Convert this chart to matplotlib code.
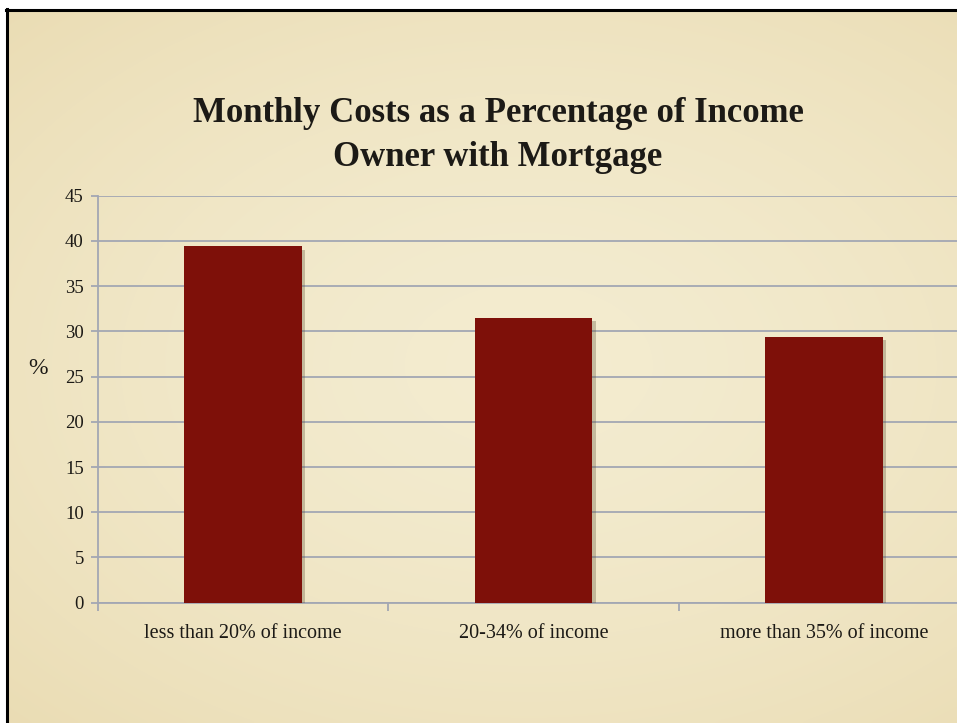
import numpy as np
import matplotlib
matplotlib.use("Agg")
import matplotlib.pyplot as plt
import matplotlib.patheffects as pe
from matplotlib.lines import Line2D

categories = ["less than 20% of income", "20-34% of income", "more than 35% of income"]
values = [39.4, 31.5, 29.4]
yticks = [0, 5, 10, 15, 20, 25, 30, 35, 40, 45]

W, H = 957, 723
fig = plt.figure(figsize=(W / 100, H / 100), dpi=100)
fig.patch.set_facecolor("white")

# parchment background
bg = fig.add_axes([6 / W, 0, 1 - 6 / W, 1 - 9 / H])
bg.set_axis_off()
yy, xx = np.mgrid[0:1:200j, 0:1:260j]
r = np.sqrt(((xx - 0.55) / 0.9) ** 2 + ((yy - 0.5) / 0.8) ** 2)
light = np.array([0.955, 0.925, 0.815])
dark = np.array([0.910, 0.850, 0.680])
t = np.clip(r, 0, 1)[..., None] ** 1.6
img = light * (1 - t) + dark * t
bg.imshow(img, aspect="auto", extent=[0, 1, 0, 1], interpolation="bicubic")
bg.set_xlim(0, 1)
bg.set_ylim(0, 1)

# black border lines (top and left)
fig.add_artist(Line2D([6 / W, 1], [1 - 10 / H, 1 - 10 / H], color="black", lw=2.2,
                      transform=fig.transFigure))
fig.add_artist(Line2D([7 / W, 7 / W], [0, 1 - 9 / H], color="black", lw=2.2,
                      transform=fig.transFigure))

serif = ["Liberation Serif", "DejaVu Serif"]
txt = "#1c1a16"
gridc = "#a3a7b3"

left = 97.7 / W
width = 871.5 / W
bottom = (H - 602.7) / H
height = 407 / H
ax = fig.add_axes([left, bottom, width, height])
ax.set_facecolor("none")

x = np.arange(len(categories))
bars = ax.bar(x, values, width=0.404, color="#7e1009", zorder=3)
for b in bars:
    b.set_path_effects([pe.SimplePatchShadow(offset=(2.5, -2.5), shadow_rgbFace="#5a4a30", alpha=0.3),
                        pe.Normal()])

ax.set_xlim(-0.5, len(categories) - 0.5)
ax.set_ylim(0, 45)
ax.set_yticks(yticks)
ax.set_yticklabels([str(v) for v in yticks], fontfamily=serif, fontsize=13.5, color=txt)
ax.yaxis.grid(True, color=gridc, lw=1.3, zorder=0)
ax.set_axisbelow(True)

ax.set_xticks(x)
ax.set_xticklabels(categories, fontfamily=serif, fontsize=14.5, color=txt)
ax.set_xticks(np.arange(len(categories) + 1) - 0.5, minor=True)
ax.tick_params(axis="x", which="major", length=0, pad=15)
ax.tick_params(axis="x", which="minor", length=6, color=gridc, width=1.3)
ax.tick_params(axis="y", length=5, color=gridc, width=1.3, pad=5)

for s in ["top", "right"]:
    ax.spines[s].set_visible(False)
ax.spines["left"].set_color(gridc)
ax.spines["left"].set_linewidth(1.3)
ax.spines["bottom"].set_color(gridc)
ax.spines["bottom"].set_linewidth(1.3)

fig.text(38 / W, 1 - 368 / H, "%", fontfamily=serif, fontsize=17, color=txt,
         ha="center", va="center")

fig.text(498 / W, 1 - 113 / H, "Monthly Costs as a Percentage of Income",
         fontfamily=serif, fontsize=25, fontweight="bold", color=txt, ha="center", va="center")
fig.text(498 / W, 1 - 157 / H, "Owner with Mortgage",
         fontfamily=serif, fontsize=25, fontweight="bold", color=txt, ha="center", va="center")

fig.savefig("out.png", dpi=100)
